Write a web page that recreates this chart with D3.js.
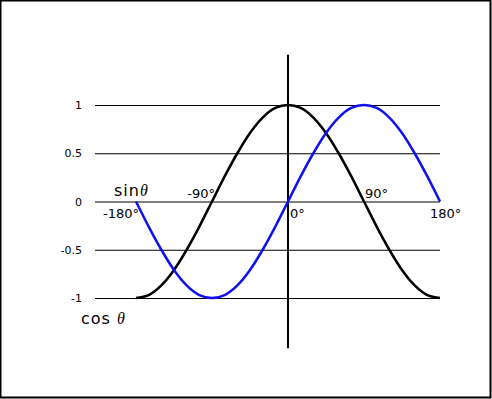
<!DOCTYPE html>
<html>
<head>
<meta charset="utf-8">
<script src="https://cdn.jsdelivr.net/npm/d3@7"></script>
<style>
body { margin: 0; background: #fff; }
svg { display: block; }
.yAxis text { font-family: "DejaVu Sans", sans-serif; font-size: 11px; fill: #000; }
.yAxis line { stroke: #000; stroke-width: 1; }
.lbl { font-family: "DejaVu Sans", sans-serif; fill: #000; }
.theta { font-family: "Liberation Serif", serif; font-style: italic; }
</style>
</head>
<body>
<div class="container"></div>
<script>
// angles in degrees
var angles = [-180,-165,-150,-135,-120,-105,-90,-75,-60,-45,-30,-15,0,15,30,45,60,75,90,105,120,135,150,165,180];
var sinValues = [0,-0.26,-0.5,-0.71,-0.87,-0.97,-1,-0.97,-0.87,-0.71,-0.5,-0.26,0,0.26,0.5,0.71,0.87,0.97,1,0.97,0.87,0.71,0.5,0.26,0];
var cosValues = [-1,-0.97,-0.87,-0.71,-0.5,-0.26,0,0.26,0.5,0.71,0.87,0.97,1,0.97,0.87,0.71,0.5,0.26,0,-0.26,-0.5,-0.71,-0.87,-0.97,-1];

var yTicks = [1, 0.5, 0, -0.5, -1];
var yTickLabels = ["1", "0.5", "0", "-0.5", "-1"];

var angleLabels = [
	{a: -180, text: "-180°", pos: "below", anchor: "end", dx: 3},
	{a: -90, text: "-90°", pos: "above", anchor: "end", dx: 3},
	{a: 0, text: "0°", pos: "below", anchor: "start", dx: 2},
	{a: 90, text: "90°", pos: "above", anchor: "start", dx: 1},
	{a: 180, text: "180°", pos: "below", anchor: "start", dx: -10}
];

const WIDTH = 492;
const HEIGHT = 399;

var translate = function(x, y){
	return "translate("+x+","+y+")";
};

var svg = d3.select('.container').append('svg')
	.attr('width', WIDTH)
	.attr('height', HEIGHT);

// frame
svg.append('rect')
	.attr('x', 0.5).attr('y', 0.5)
	.attr('width', WIDTH - 2).attr('height', HEIGHT - 2)
	.attr('fill', 'none')
	.attr('stroke', '#000')
	.attr('stroke-width', 2);

var xScale = d3.scaleLinear()
	.domain([-180, 180])
	.range([136, 440]);

var yScale = d3.scaleLinear()
	.domain([-1, 1])
	.range([298, 105]);

var gridLeft = 95;

var yAxis = d3.axisLeft(yScale)
	.tickValues(yTicks)
	.tickFormat(function(d, i){ return yTickLabels[i]; })
	.tickSize(-(xScale(180) - gridLeft))
	.tickPadding(13);

svg.append('g')
	.attr('transform', translate(gridLeft, 0))
	.classed('yAxis', true)
	.call(yAxis)
	.call(function(g){ g.select('.domain').remove(); });

// vertical axis at 0°
svg.append('line')
	.attr('x1', xScale(0)).attr('x2', xScale(0))
	.attr('y1', yScale(1.52)).attr('y2', yScale(-1.52))
	.attr('stroke', '#000')
	.attr('stroke-width', 2);

var line = function(values){
	return d3.line()
		.x(function(d, i){ return xScale(angles[i]); })
		.y(function(d){ return yScale(d); })
		.curve(d3.curveMonotoneX)(values);
};

svg.append('path')
	.attr('d', line(cosValues))
	.attr('fill', 'none')
	.attr('stroke', '#000')
	.attr('stroke-width', 2.5);

svg.append('path')
	.attr('d', line(sinValues))
	.attr('fill', 'none')
	.attr('stroke', '#1010f0')
	.attr('stroke-width', 2.5);

svg.selectAll('.angle').data(angleLabels)
	.enter().append('text')
	.classed('lbl', true)
	.attr('x', function(d){ return xScale(d.a) + d.dx; })
	.attr('y', function(d){ return d.pos == "above" ? yScale(0) - 4 : yScale(0) + 16.5; })
	.attr('text-anchor', function(d){ return d.anchor; })
	.style('font-size', '13px')
	.text(function(d){ return d.text; });

var sinLabel = svg.append('text')
	.classed('lbl', true)
	.attr('x', 114).attr('y', yScale(0) - 5.5)
	.style('font-size', '16px');
sinLabel.append('tspan').style('letter-spacing', '1px').text('sin');
sinLabel.append('tspan').classed('theta', true).text('θ');

var cosLabel = svg.append('text')
	.classed('lbl', true)
	.attr('x', 81).attr('y', yScale(-1) + 26)
	.style('font-size', '16px');
cosLabel.append('tspan').style('letter-spacing', '1px').text('cos ');
cosLabel.append('tspan').classed('theta', true).text('θ');
</script>
</body>
</html>
